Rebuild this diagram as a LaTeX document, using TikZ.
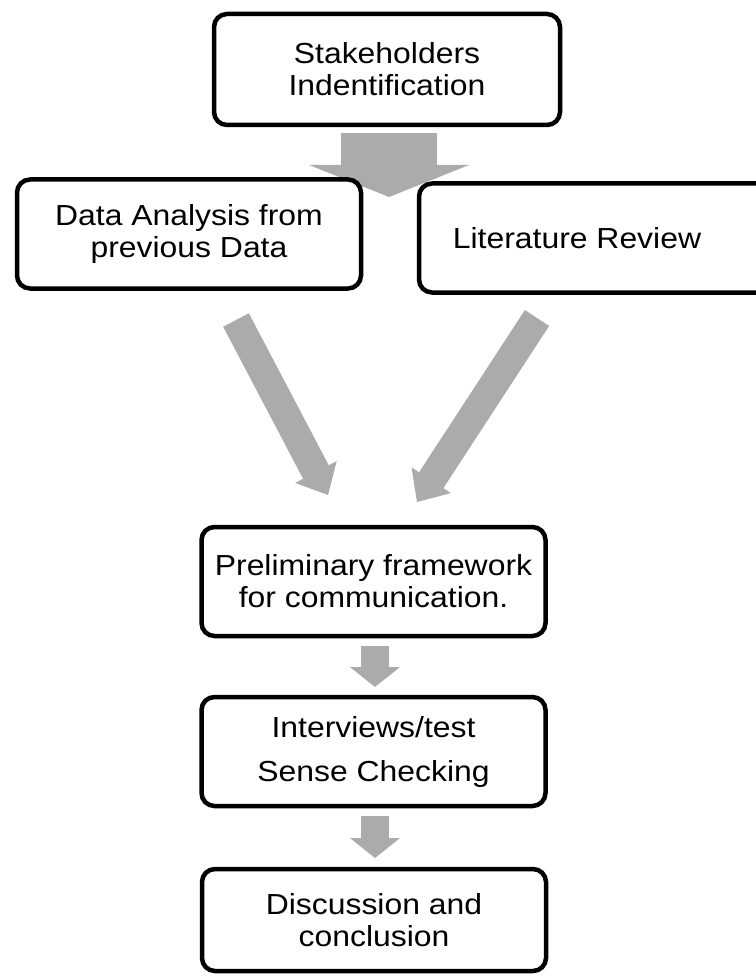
\documentclass[tikz,border=0pt]{standalone}
\usepackage{fontspec}
\setmainfont{Liberation Sans}[FakeStretch=1.1]
\usetikzlibrary{arrows.meta}
\definecolor{arrowgray}{HTML}{ABABAB}

\begin{document}
\begin{tikzpicture}[x=1pt,y=-1pt,
    stagebox/.style={draw,line width=4.5pt,rounded corners=13pt,fill=white,align=center,
      font=\fontsize{29}{32}\selectfont,minimum width=344pt,minimum height=109pt,inner sep=0pt},
    fatarrow/.style={draw=arrowgray,line width=29pt,-{Triangle[width=47pt,length=26pt,line width=0pt]}}]
      \useasboundingbox (0,0) rectangle (755,976);
      \coordinate (top1) at (389,133);
      \coordinate (top2) at (389,197);
      \draw[draw=arrowgray,line width=96pt,-{Triangle[width=160pt,length=32pt,line width=0pt]}] (top1) -- (top2);
      \node[stagebox,minimum width=346pt,minimum height=111pt] (stake) at (387,69.5) {Stakeholders\\Indentification};
      \node[stagebox] (data) at (189,234) {Data Analysis from\\previous Data};
      \node[stagebox,minimum width=356pt] (lit) at (597,238) {};
      \node[font=\fontsize{29}{32}\selectfont] (littext) at (577,238) {Literature Review};
      \node[stagebox] (prelim) at (373.5,581.5) {Preliminary framework\\for communication.};
      \node[stagebox] (interv) at (373.5,751.5) {Interviews/test\\[12pt]Sense Checking};
      \node[stagebox,minimum height=102pt] (concl) at (374,920) {Discussion and\\conclusion};
      \coordinate (left1) at (236,320);
      \coordinate (left2) at (328,495);
      \coordinate (right1) at (537,318);
      \coordinate (right2) at (417,502);
      \draw[fatarrow] (left1) -- (left2);
      \draw[fatarrow] (right1) -- (right2);
      \coordinate (mid1) at (375,646);
      \coordinate (mid2) at (375,687);
      \coordinate (low1) at (375,816);
      \coordinate (low2) at (375,858);
      \draw[fatarrow,line width=28pt,-{Triangle[width=50pt,length=20pt,line width=0pt]}] (mid1) -- (mid2);
      \draw[fatarrow,line width=28pt,-{Triangle[width=50pt,length=20pt,line width=0pt]}] (low1) -- (low2);
\end{tikzpicture}
\end{document}
